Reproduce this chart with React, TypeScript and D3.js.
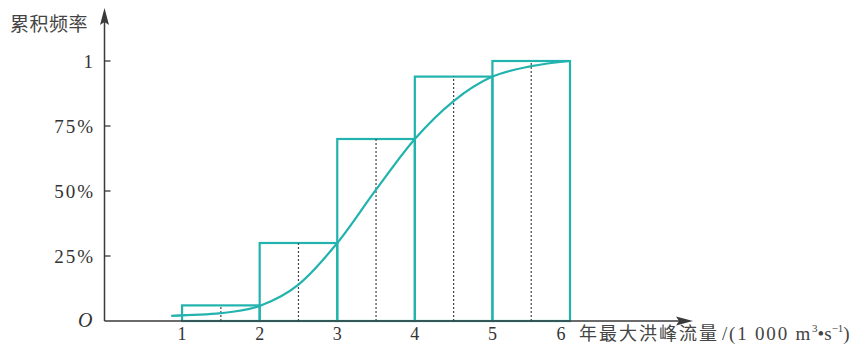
import React from "react";
import * as d3 from "d3";

// bins of annual peak flow (1000 m3/s) and cumulative frequency at bin end
const binEdges = [1, 2, 3, 4, 5, 6];
const cumFreq = [0.06, 0.3, 0.7, 0.94, 1.0];

// smooth cumulative curve
const curveX = [0.86, 1.5, 2, 2.5, 3, 3.5, 4, 4.5, 5, 5.5, 6];
const curveY = [0.02, 0.03, 0.058, 0.14, 0.3, 0.505, 0.7, 0.846, 0.94, 0.98, 1.0];

const xTicks = [1, 2, 3, 4, 5, 6];
const yTicks = [0.25, 0.5, 0.75, 1];
const yTickLabels = ["25%", "50%", "75%", "1"];

const TEAL = "#22b3ae";
const AXIS = "#3a3a3a";
const TEXT = "#333";
const SERIF = "'Liberation Serif', 'Times New Roman', serif";
const CJK = "'Liberation Serif', 'Noto Sans CJK SC', serif";

export default function App() {
  const w = 864;
  const h = 345;

  const x = d3.scaleLinear().domain([0, 6]).range([104.5, 570]);
  const y = d3.scaleLinear().domain([0, 1]).range([321, 61]);

  const line = d3
    .line<number>()
    .x((d, i) => x(curveX[i]))
    .y((d) => y(d))
    .curve(d3.curveMonotoneX);

  const x0 = x(0);
  const y0 = y(0);

  return (
    <svg
      width={w}
      height={h}
      style={{ position: "absolute", left: 0, top: 0, background: "#fff" }}
    >
      {/* bars */}
      {cumFreq.map((v, i) => (
        <rect
          key={"b" + i}
          x={x(binEdges[i])}
          y={y(v)}
          width={x(binEdges[i + 1]) - x(binEdges[i])}
          height={y0 - y(v)}
          fill="none"
          stroke={TEAL}
          strokeWidth={2.2}
        />
      ))}

      {/* dotted mid lines */}
      {cumFreq.map((v, i) => {
        const mx = x((binEdges[i] + binEdges[i + 1]) / 2);
        return (
          <line
            key={"d" + i}
            x1={mx}
            x2={mx}
            y1={y0}
            y2={y(v)}
            stroke="#444"
            strokeWidth={1.2}
            strokeDasharray="2,2"
          />
        );
      })}

      {/* curve */}
      <path d={line(curveY) || ""} fill="none" stroke={TEAL} strokeWidth={2.2} />

      {/* axes */}
      <line x1={x0} x2={686} y1={y0} y2={y0} stroke={AXIS} strokeWidth={1.5} />
      <path d={`M693,${y0} L676,${y0 - 4.5} L679,${y0} L676,${y0 + 4.5} Z`} fill={AXIS} />
      <line x1={x0} x2={x0} y1={y0} y2={16} stroke={AXIS} strokeWidth={1.5} />
      <path d={`M${x0},8 L${x0 - 4.5},25 L${x0},22 L${x0 + 4.5},25 Z`} fill={AXIS} />

      {/* y ticks */}
      {yTicks.map((t, i) => (
        <g key={"yt" + i}>
          <line x1={x0} x2={x0 + 6} y1={y(t)} y2={y(t)} stroke={AXIS} strokeWidth={1.3} />
          <text
            x={95}
            y={y(t) + 6.5}
            textAnchor="end"
            fontFamily={SERIF}
            fontSize={19}
            letterSpacing={2}
            fill={TEXT}
          >
            {yTickLabels[i]}
          </text>
        </g>
      ))}
      <text x={78} y={327} fontFamily={SERIF} fontStyle="italic" fontSize={20} fill={TEXT}>
        O
      </text>

      {/* x tick labels */}
      {xTicks.map((t, i) => (
        <text
          key={"xt" + i}
          x={x(t) + (i === xTicks.length - 1 ? -9 : 0)}
          y={340}
          textAnchor="middle"
          fontFamily={SERIF}
          fontSize={18}
          fill={TEXT}
        >
          {t}
        </text>
      ))}

      {/* axis titles */}
      <text x={10} y={31} fontFamily={CJK} fontSize={19} letterSpacing={0.5} fill="#444">
        累积频率
      </text>
      <text x={579} y={340} fontFamily={CJK} fontSize={18} fill="#444">
        <tspan letterSpacing={2}>年最大洪峰流量</tspan>
        <tspan fontFamily={SERIF} fontSize={19} letterSpacing={1.8} dx={3}>/(1 000 m</tspan>
        <tspan fontFamily={SERIF} fontSize={11} dy={-8}>3</tspan>
        <tspan fontFamily={SERIF} fontSize={19} dy={8}>•s</tspan>
        <tspan fontFamily={SERIF} fontSize={11} dy={-8}>−1</tspan>
        <tspan fontFamily={SERIF} fontSize={19} dy={8}>)</tspan>
      </text>
    </svg>
  );
}
